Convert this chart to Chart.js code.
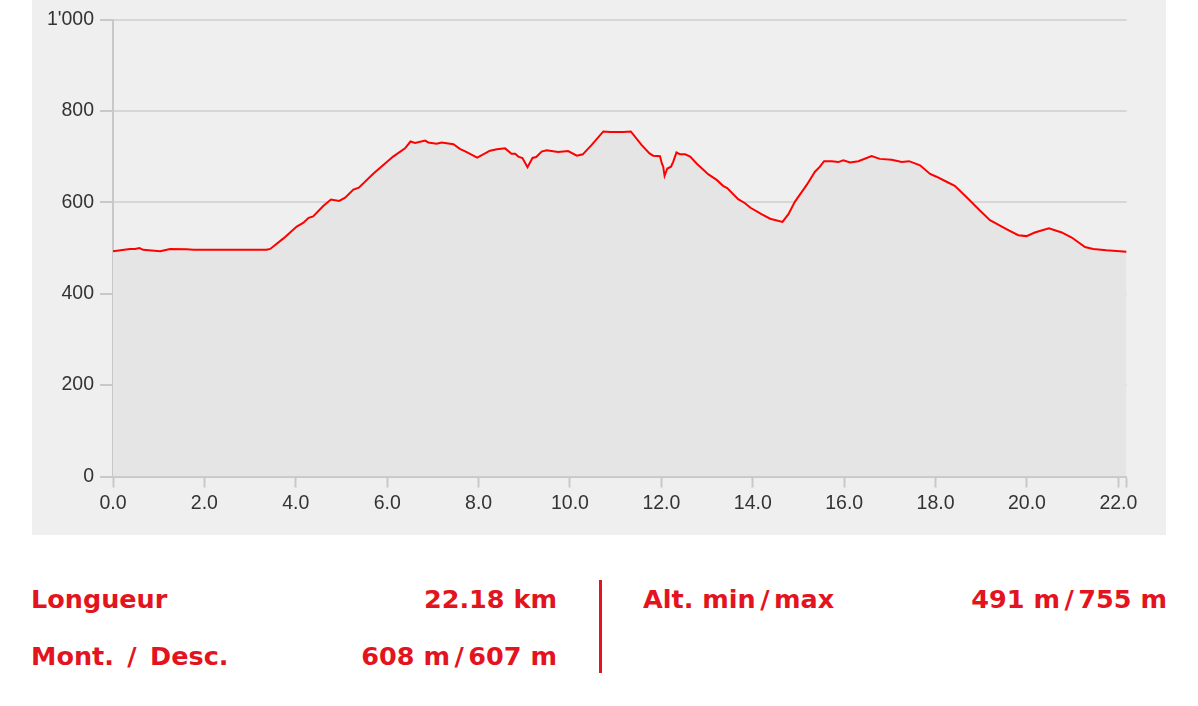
<!DOCTYPE html>
<html>
<head>
<meta charset="utf-8">
<script src="https://cdn.jsdelivr.net/npm/chart.js@4/dist/chart.umd.min.js"></script>
<style>
  html, body { margin: 0; padding: 0; background: #fff; }
  body { width: 1198px; height: 706px; position: relative; overflow: hidden; }
  #panel { position: absolute; left: 32px; top: 0; width: 1134px; height: 535px; background: #efefef; }
  .stat { position: absolute; font-family: "DejaVu Sans", Verdana, sans-serif; font-weight: bold;
          font-size: 25.5px; line-height: 25.5px; color: #e31420; white-space: nowrap; }
  .stat .sl { margin: 0 4.5px; }
  #sep { position: absolute; left: 599px; top: 580px; width: 3px; height: 93px; background: #e31420; }
</style>
</head>
<body>
<div id="panel"><canvas id="profile"></canvas></div>

<div class="stat" style="left:31px; top:587px;">Longueur</div>
<div class="stat" style="right:641px; top:587px;">22.18 km</div>
<div class="stat" style="left:31px; top:644px;">Mont. <span class="sl">/</span> Desc.</div>
<div class="stat" style="right:641px; top:644px;">608 m<span class="sl">/</span>607 m</div>
<div id="sep"></div>
<div class="stat" style="left:643px; top:587px;">Alt. min<span class="sl">/</span>max</div>
<div class="stat" style="right:31px; top:587px;">491 m<span class="sl">/</span>755 m</div>

<script>
// elevation profile, distance in km / altitude in m
const distKm = [0, 0.37, 0.48, 0.58, 0.66, 1.03, 1.25, 1.61, 1.76, 3.36,
    3.44, 3.73, 4.02, 4.16, 4.28, 4.38, 4.60, 4.77, 4.95, 5.08,
    5.26, 5.38, 5.70, 6.13, 6.39, 6.51, 6.61, 6.83, 6.90, 7.08,
    7.19, 7.45, 7.59, 7.74, 7.97, 8.25, 8.40, 8.58, 8.72, 8.80,
    8.87, 8.96, 9.07, 9.18, 9.26, 9.38, 9.49, 9.74, 9.96, 10.15,
    10.28, 10.47, 10.73, 10.88, 11.17, 11.33, 11.57, 11.74, 11.82, 11.97,
    12.01, 12.04, 12.07, 12.13, 12.21, 12.26, 12.33, 12.41, 12.52, 12.63,
    12.77, 13.03, 13.21, 13.35, 13.44, 13.68, 13.83, 13.95, 14.19, 14.38,
    14.65, 14.78, 14.92, 15.18, 15.36, 15.46, 15.56, 15.73, 15.87, 15.98,
    16.13, 16.31, 16.60, 16.78, 17.04, 17.26, 17.42, 17.66, 17.88, 18.02,
    18.24, 18.42, 18.68, 18.97, 19.19, 19.30, 19.56, 19.81, 19.99, 20.17,
    20.48, 20.76, 20.98, 21.27, 21.45, 21.74, 22.03, 22.18];

const altitude = [493, 498, 498, 500, 496, 493, 498, 497, 496, 496,
    498, 521, 547, 555, 566, 569, 592, 606, 603, 610,
    628, 632, 663, 700, 718, 733, 730, 735, 731, 728,
    731, 727, 717, 710, 698, 713, 716, 718, 706, 706,
    700, 697, 677, 697, 699, 711, 714, 710, 712, 702,
    705, 725, 755, 754, 754, 755, 725, 707, 702, 701,
    685, 678, 658, 674, 678, 689, 709, 705, 705, 700,
    685, 661, 649, 636, 631, 607, 598, 588, 574, 564,
    557, 574, 601, 638, 667, 677, 690, 690, 688, 692,
    687, 690, 701, 695, 693, 688, 690, 681, 662, 656,
    645, 636, 611, 582, 561, 555, 541, 528, 526, 534,
    543, 534, 523, 502, 498, 495, 493, 492];

const xTicks = [0, 2, 4, 6, 8, 10, 12, 14, 16, 18, 20, 22, 22.18];
const yTicks = [0, 200, 400, 600, 800, 1000];
const totalKm = 22.18;

const tickFont = { family: '"Liberation Sans", Arial, sans-serif', size: 19.5 };

function fmtThousands(v) {
    return String(v).replace(/\B(?=(\d{3})+(?!\d))/g, "'");
}

const points = distKm.map((d, i) => ({ x: d, y: altitude[i] }));

new Chart(document.getElementById('profile'), {
    type: 'line',
    data: {
        datasets: [{
            data: points,
            borderColor: '#ff0000',
            borderWidth: 2,
            backgroundColor: '#e5e5e5',
            fill: 'origin',
            pointRadius: 0,
            tension: 0
        }]
    },
    options: {
        responsive: true,
        maintainAspectRatio: false,
        animation: false,
        layout: { padding: { top: 19.5, right: 39.4, left: 0, bottom: 0 } },
        plugins: { legend: { display: false }, tooltip: { enabled: false } },
        scales: {
            x: {
                type: 'linear',
                min: 0,
                max: totalKm,
                afterBuildTicks: s => { s.ticks = xTicks.map(v => ({ value: v })); },
                afterFit: s => { s.height = 58.5; },
                grid: { drawOnChartArea: false, tickLength: 11, tickColor: '#c8c8c8', tickWidth: 2 },
                border: { color: '#c8c8c8', width: 2 },
                ticks: {
                    color: '#333',
                    font: tickFont,
                    padding: 4,
                    maxRotation: 0,
                    autoSkip: false,
                    callback: v => (v === totalKm ? '' : v.toFixed(1))
                }
            },
            y: {
                min: 0,
                max: 1000,
                afterBuildTicks: s => { s.ticks = yTicks.map(v => ({ value: v })); },
                afterFit: s => { s.width = 81; },
                grid: { color: '#d6d6d6', lineWidth: 2, tickLength: 13, tickColor: '#c8c8c8', tickWidth: 2 },
                border: { color: '#c8c8c8', width: 2 },
                ticks: {
                    color: '#333',
                    font: tickFont,
                    padding: 6,
                    callback: v => fmtThousands(v)
                }
            }
        }
    }
});
</script>
</body>
</html>
